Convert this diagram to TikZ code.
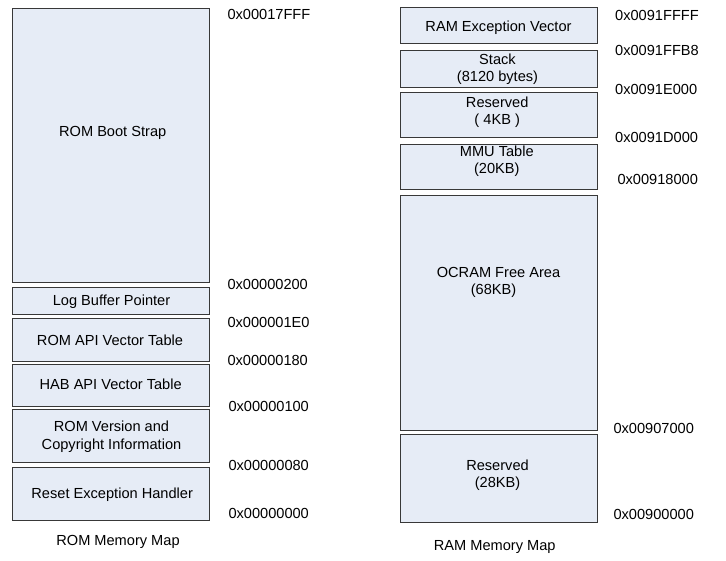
\documentclass[tikz,border=0pt]{standalone}
\usepackage{fontspec}
\setmainfont{Liberation Sans}
\begin{document}
\begin{tikzpicture}[x=1bp,y=-1bp,
  box/.style={draw=black!78,line width=0.9bp,fill=memfill,inner sep=0pt,outer sep=0pt,minimum width=197bp},
  txt/.style={inner sep=0pt,text height=0.72em,text depth=0.21em,yshift=-1.5bp},
  two/.style={inner sep=0pt,align=center,yshift=-1.5bp},
  addr/.style={txt,anchor=west}]
\definecolor{memfill}{RGB}{230,236,246}
\useasboundingbox (0,0) rectangle (726,561);
\fontsize{14.6bp}{17.4bp}\selectfont
% ROM boxes
\node[box,minimum height=274bp]  (boot)  at (110.8,145.3) {};
\node[box,minimum height=27bp]   (log)   at (110.8,300.8) {};
\node[box,minimum height=42.7bp] (romapi) at (110.8,339.7) {};
\node[box,minimum height=41.7bp] (hab)   at (110.8,385.2) {};
\node[box,minimum height=53bp]   (ver)   at (110.8,436.2) {};
\node[box,minimum height=53bp]   (reset) at (110.8,494.2) {};
% ROM texts
\node[txt] (tboot)  at (112.7,131.7) {ROM Boot Strap};
\node[txt] (tlog)   at (111.5,300) {Log Buffer Pointer};
\node[txt] (tromapi) at (110,340) {ROM API Vector Table};
\node[txt] (thab)   at (110.7,384) {HAB API Vector Table};
\node[two] (tver)   at (111.5,435.3) {ROM Version and\\Copyright Information};
\node[txt] (treset) at (112.2,493.3) {Reset Exception Handler};
\node[txt] (romcap) at (118,540.7) {ROM Memory Map};
% ROM addresses
\node[addr] (a1) at (227.3,14.3) {0x00017FFF};
\node[addr] (a2) at (227.3,284) {0x00000200};
\node[addr] (a3) at (227.3,322.3) {0x000001E0};
\node[addr] (a4) at (227.3,360) {0x00000180};
\node[addr] (a5) at (228.3,406) {0x00000100};
\node[addr] (a6) at (228.3,465) {0x00000080};
\node[addr] (a7) at (228.3,513.3) {0x00000000};
% RAM boxes
\node[box,minimum height=36.3bp]  (exc)   at (498.5,25.8) {};
\node[box,minimum height=37bp]    (stack) at (498.5,68.5) {};
\node[box,minimum height=44.7bp]  (res4)  at (498.5,115.3) {};
\node[box,minimum height=45bp]    (mmu)   at (498.5,166.5) {};
\node[box,minimum height=234.7bp] (ocram) at (498.5,312.7) {};
\node[box,minimum height=88bp]    (res28) at (498.5,478.3) {};
% RAM texts
\node[txt] (texc)   at (498.5,26) {RAM Exception Vector};
\node[two] (tstack) at (497.5,67.7) {Stack\\(8120 bytes)};
\node[two] (tres4)  at (497.2,111) {Reserved\\( 4KB )};
\node[two] (tmmu)   at (496.8,160) {MMU Table\\(20KB)};
\node[two] (tocram) at (498.5,280.8) {OCRAM Free Area\\(68KB)\hspace*{10bp}};
\node[two] (tres28) at (497.5,473.8) {Reserved\\(28KB)};
\node[txt] (ramcap) at (494.7,545.7) {RAM Memory Map};
% RAM addresses
\node[addr] (b1) at (615,15) {0x0091FFFF};
\node[addr] (b2) at (615,50) {0x0091FFB8};
\node[addr] (b3) at (615,89.3) {0x0091E000};
\node[addr] (b4) at (615,137.3) {0x0091D000};
\node[addr] (b5) at (617.3,179.3) {0x00918000};
\node[addr] (b6) at (613.3,428.3) {0x00907000};
\node[addr] (b7) at (613.3,514.3) {0x00900000};
\end{tikzpicture}
\end{document}
